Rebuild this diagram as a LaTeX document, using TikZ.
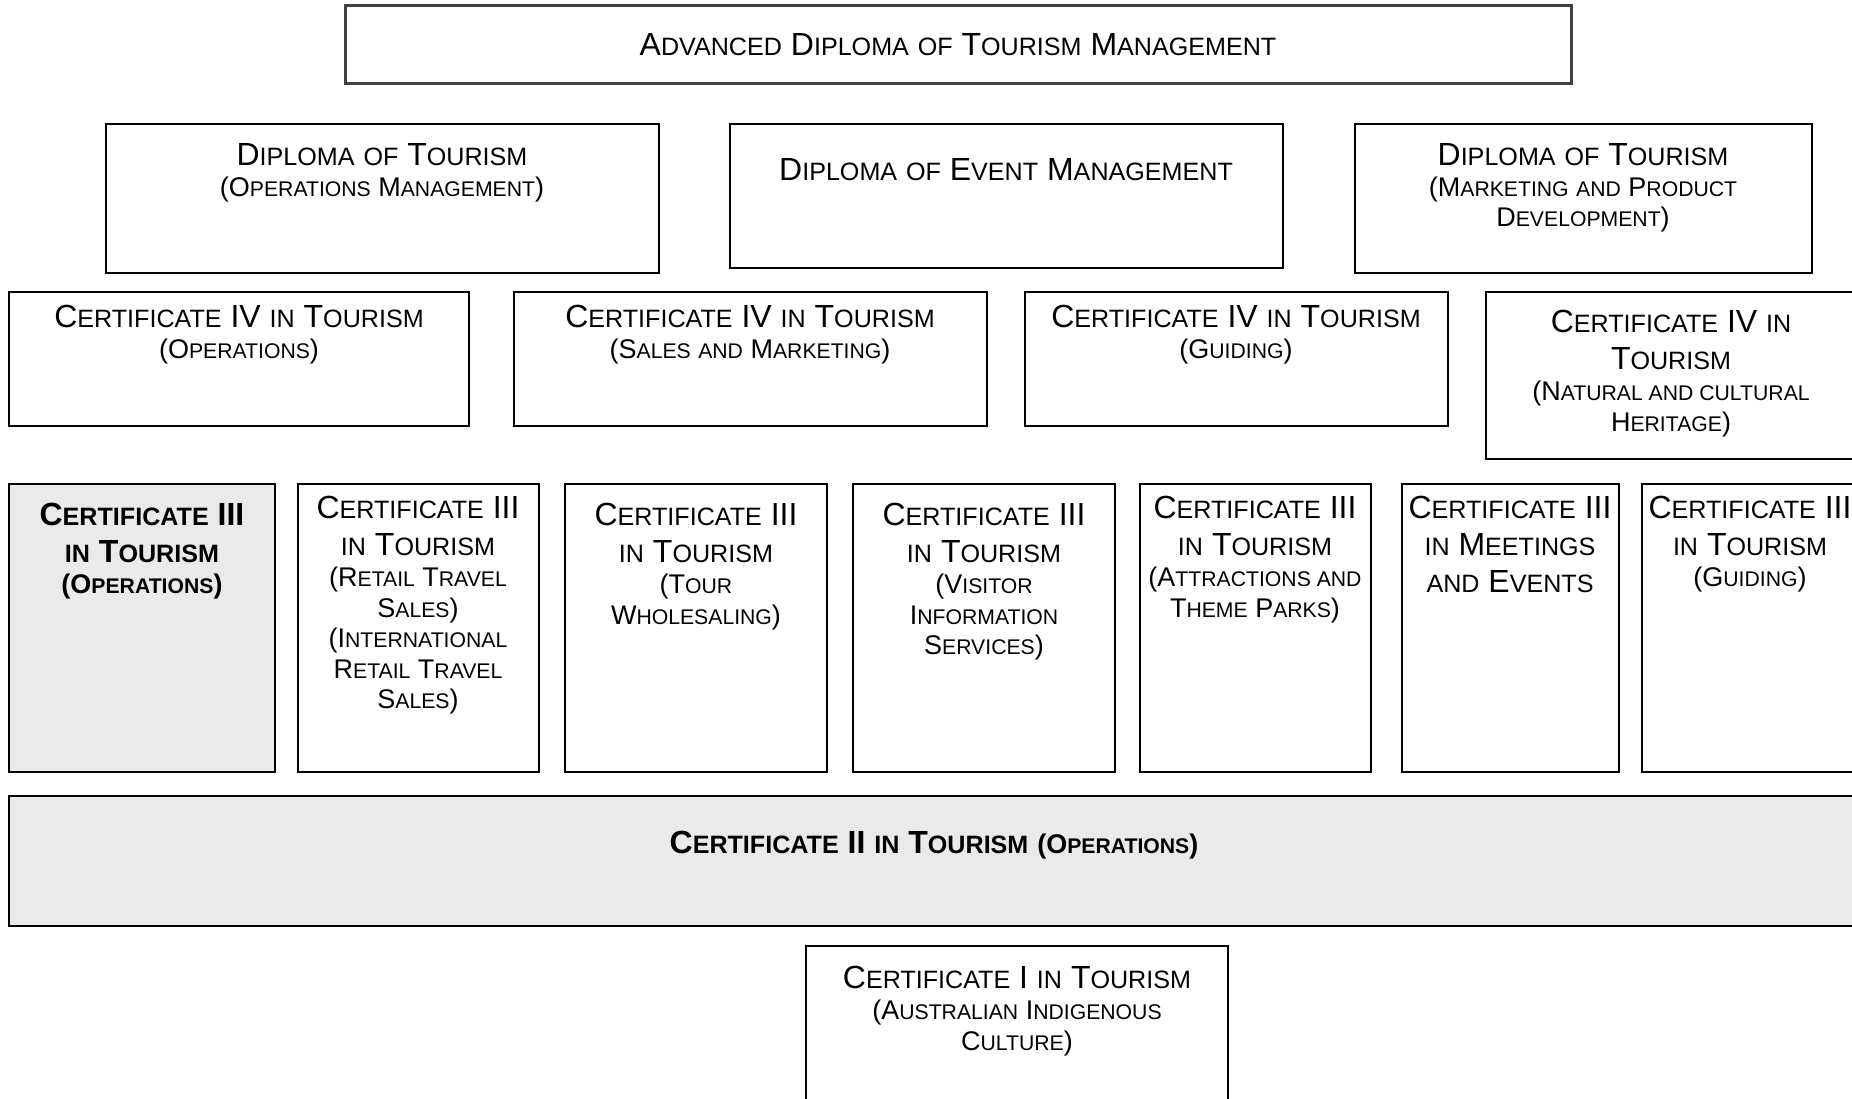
\documentclass[tikz,border=0pt]{standalone}
\usepackage{fontspec}
\setmainfont{Liberation Sans}
\makeatletter
\newcommand\smc[1]{{\fontsize{\strip@pt\dimexpr0.785\dimexpr\f@size pt\relax\relax}{0pt}\selectfont #1}}
\makeatother
\newcommand\mainf{\fontsize{32}{37}\selectfont}
\newcommand\subf{\fontsize{27}{30}\selectfont}
\definecolor{boxgray}{HTML}{EAEAEA}
\definecolor{topline}{HTML}{404040}
\tikzset{
  box/.style={draw=black, line width=2.5pt, rectangle, inner sep=0pt, outer sep=0pt},
  shaded/.style={fill=boxgray},
  txt/.style={anchor=north, inner sep=0pt, align=center, font=\mainf},
  btxt/.style={txt, font=\mainf\bfseries},
}
\newcommand\mybox[6][]{\node[box,#1,minimum width={#5-#3}, minimum height={#6-#4}] (#2) at ({(#3+#5)/2},{(#4+#6)/2}) {};}
\begin{document}
\begin{tikzpicture}[x=1pt,y=-1pt]
\useasboundingbox (0,0) rectangle (1852,1098);
\clip (0,0) rectangle (1852,1098);
% boxes
\mybox[draw=topline, line width=3pt]{adv}{345}{5}{1571}{83}
\mybox{dip1}{106}{124}{659}{273}
\mybox{dip2}{730}{124}{1283}{268}
\mybox{dip3}{1355}{124}{1812}{273}
\mybox{civa}{9}{292}{469}{426}
\mybox{civb}{514}{292}{987}{426}
\mybox{civc}{1025}{292}{1448}{426}
\mybox{civd}{1486}{292}{1880}{459}
\mybox[shaded]{ciiia}{9}{484}{275}{772}
\mybox{ciiib}{298}{484}{539}{772}
\mybox{ciiic}{565}{484}{827}{772}
\mybox{ciiid}{853}{484}{1115}{772}
\mybox{ciiie}{1140}{484}{1371}{772}
\mybox{ciiif}{1402}{484}{1619}{772}
\mybox{ciiig}{1642}{484}{1880}{772}
\mybox[shaded]{cii}{9}{796}{1880}{926}
\mybox{ci}{806}{946}{1228}{1120}
% texts
\node[txt] (tadv) at (958,33) {A\smc{DVANCED} D\smc{IPLOMA} \smc{OF} T\smc{OURISM} M\smc{ANAGEMENT}};
\node[txt] (tdip1) at (382,143) {D\smc{IPLOMA} \smc{OF} T\smc{OURISM}\\[-6pt]{\subf (O\smc{PERATIONS} M\smc{ANAGEMENT})}};
\node[txt] (tdip2) at (1006,158) {D\smc{IPLOMA} \smc{OF} E\smc{VENT} M\smc{ANAGEMENT}};
\node[txt] (tdip3) at (1583,143) {D\smc{IPLOMA} \smc{OF} T\smc{OURISM}\\[-6pt]{\subf (M\smc{ARKETING} \smc{AND} P\smc{RODUCT}}\\[-6.5pt]{\subf D\smc{EVELOPMENT})}};
\node[txt] (tciva) at (239,305) {C\smc{ERTIFICATE} IV \smc{IN} T\smc{OURISM}\\[-6pt]{\subf (O\smc{PERATIONS})}};
\node[txt] (tcivb) at (750,305) {C\smc{ERTIFICATE} IV \smc{IN} T\smc{OURISM}\\[-6pt]{\subf (S\smc{ALES} \smc{AND} M\smc{ARKETING})}};
\node[txt] (tcivc) at (1236,305) {C\smc{ERTIFICATE} IV \smc{IN} T\smc{OURISM}\\[-6pt]{\subf (G\smc{UIDING})}};
\node[txt] (tcivd) at (1671,310) {C\smc{ERTIFICATE} IV \smc{IN}\\T\smc{OURISM}\\[-6pt]{\subf (N\smc{ATURAL AND CULTURAL}}\\[-6.5pt]{\subf H\smc{ERITAGE})}};
\node[btxt] (tciiia) at (142,503) {C\smc{ERTIFICATE} III\\\smc{IN} T\smc{OURISM}\\[-6pt]{\subf (O\smc{PERATIONS})}};
\node[txt] (tciiib) at (418,496) {C\smc{ERTIFICATE} III\\\smc{IN} T\smc{OURISM}\\[-6pt]{\subf (R\smc{ETAIL} T\smc{RAVEL}}\\[-6.5pt]{\subf S\smc{ALES})}\\[-6.5pt]{\subf (I\smc{NTERNATIONAL}}\\[-6.5pt]{\subf R\smc{ETAIL} T\smc{RAVEL}}\\[-6.5pt]{\subf S\smc{ALES})}};
\node[txt] (tciiic) at (696,503) {C\smc{ERTIFICATE} III\\\smc{IN} T\smc{OURISM}\\[-6pt]{\subf (T\smc{OUR}}\\[-6.5pt]{\subf W\smc{HOLESALING})}};
\node[txt] (tciiid) at (984,503) {C\smc{ERTIFICATE} III\\\smc{IN} T\smc{OURISM}\\[-6pt]{\subf (V\smc{ISITOR}}\\[-6.5pt]{\subf I\smc{NFORMATION}}\\[-6.5pt]{\subf S\smc{ERVICES})}};
\node[txt] (tciiie) at (1255,496) {C\smc{ERTIFICATE} III\\\smc{IN} T\smc{OURISM}\\[-6pt]{\subf (A\smc{TTRACTIONS AND}}\\[-6.5pt]{\subf T\smc{HEME} P\smc{ARKS})}};
\node[txt] (tciiif) at (1510,496) {C\smc{ERTIFICATE} III\\\smc{IN} M\smc{EETINGS}\\\smc{AND} E\smc{VENTS}};
\node[txt] (tciiig) at (1750,496) {C\smc{ERTIFICATE} III\\\smc{IN} T\smc{OURISM}\\[-6pt]{\subf (G\smc{UIDING})}};
\node[btxt] (tcii) at (934,831) {C\smc{ERTIFICATE} II \smc{IN} T\smc{OURISM} {\subf (O\smc{PERATIONS})}};
\node[txt] (tci) at (1017,966) {C\smc{ERTIFICATE} I \smc{IN} T\smc{OURISM}\\[-6pt]{\subf (A\smc{USTRALIAN} I\smc{NDIGENOUS}}\\[-6.5pt]{\subf C\smc{ULTURE})}};
\end{tikzpicture}
\end{document}
